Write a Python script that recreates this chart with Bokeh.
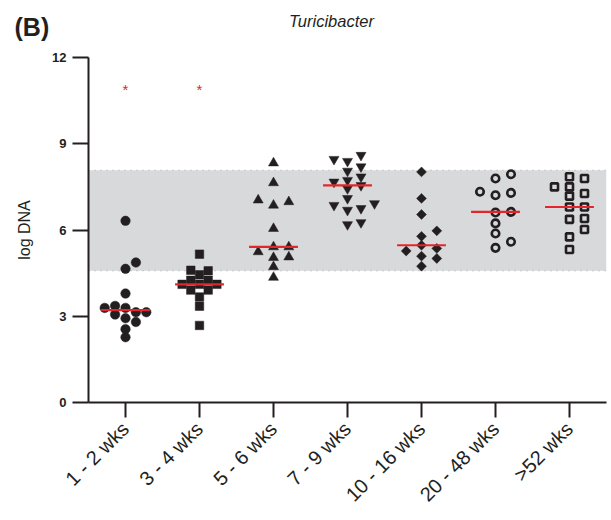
import numpy as np
from bokeh.plotting import figure
from bokeh.layouts import column
from bokeh.models import BoxAnnotation, Span, FixedTicker, Range1d, ColumnDataSource
from bokeh.core.properties import value
from bokeh.embed import file_html
from bokeh.resources import INLINE

# Age groups and log DNA values (Turicibacter)
groups = ["1 - 2 wks", "3 - 4 wks", "5 - 6 wks", "7 - 9 wks",
          "10 - 16 wks", "20 - 48 wks", ">52 wks"]

wk_1_2 = [6.32, 4.87, 4.65, 3.79, 3.36, 3.29, 3.29, 3.14, 3.14, 3.06, 2.93, 2.80, 2.55, 2.27]
wk_3_4 = [5.16, 4.60, 4.58, 4.44, 4.25, 4.25, 4.11, 4.11, 4.11, 3.91, 3.91, 3.67, 3.35, 2.68]
wk_5_6 = [8.33, 7.64, 7.04, 6.98, 6.86, 6.05, 5.41, 5.41, 5.24, 5.06, 5.04, 4.72, 4.35]
wk_7_9 = [8.60, 8.46, 8.39, 8.20, 8.05, 7.85, 7.73, 7.67, 7.55, 7.44, 7.10, 6.92, 6.86,
          6.75, 6.69, 6.26, 6.19]
wk_10_16 = [8.02, 7.10, 6.54, 5.97, 5.78, 5.47, 5.36, 5.27, 5.09, 5.01, 4.74]
wk_20_48 = [7.94, 7.79, 7.33, 7.29, 7.21, 6.63, 6.61, 6.23, 5.88, 5.59, 5.38]
wk_52_plus = [7.85, 7.79, 7.50, 7.50, 7.27, 7.18, 6.80, 6.80, 6.40, 6.37, 6.02, 5.76, 5.32]

series = [wk_1_2, wk_3_4, wk_5_6, wk_7_9, wk_10_16, wk_20_48, wk_52_plus]

# Reference range (shaded band) and groups flagged as significantly different
ref_low, ref_high = 4.58, 8.08
flagged = ["1 - 2 wks", "3 - 4 wks"]
star_level = 10.9

panel_letter = "(B)"
chart_title = "Turicibacter"

INK = "#231f20"
RED = "#e3262b"

# page geometry: a thin header strip above the main chart
W = 611
HEAD_H = 47
MAIN_H = 520 - HEAD_H
LEFT, RIGHT, TOP, BOTTOM = 88, 5, 10, 118
X0, X1, Y0, Y1 = 0.5, 7.5, 0, 12
PX_X = (W - LEFT - RIGHT) / (X1 - X0)
PX_Y = (MAIN_H - TOP - BOTTOM) / (Y1 - Y0)

# marker style per group: (marker, size, angle, filled, slot spacing px, min vertical gap px)
styles = [
    ("circle", 9.5, 0.0, True, 10.4, 8.0),
    ("square", 8.5, 0.0, True, 8.7, 7.5),
    ("triangle", 10.0, 0.0, True, 15.3, 8.0),
    ("inverted_triangle", 10.0, 0.0, True, 13.5, 8.0),
    ("square", 7.0, np.pi / 4, True, 15.3, 8.0),
    ("circle", 7.5, 0.0, False, 15.5, 9.0),
    ("square", 7.0, 0.0, False, 15.0, 9.0),
]


def swarm(vals, slot_px, gap_px):
    """Place points in horizontal slots so that markers in the same slot don't overlap."""
    vals = np.asarray(vals, dtype=float)
    order = np.argsort(vals)
    placed = []
    offsets = np.zeros(len(vals))
    cands = [0, 1, -1, 2, -2, 3, -3, 4, -4, 5, -5]
    for i in order:
        ypx = vals[i] * PX_Y
        slot = 0
        for c in cands:
            if all(not (s == c and abs(ypx - yy) < gap_px) for s, yy in placed):
                slot = c
                break
        placed.append((slot, ypx))
        offsets[i] = slot * slot_px / PX_X
    return offsets


# ---- header strip: panel letter and chart title ----
head = figure(width=W, height=HEAD_H, output_backend="svg", toolbar_location=None,
              x_range=Range1d(0, W), y_range=Range1d(0, HEAD_H),
              x_axis_type=None, y_axis_type=None,
              min_border=0, min_border_left=0, min_border_right=0,
              min_border_top=0, min_border_bottom=0)
head.outline_line_color = None
head.grid.visible = False
head.background_fill_color = "white"
head.border_fill_color = "white"
head.text(x=[14], y=[HEAD_H - 26], text=[panel_letter], text_color=INK,
          text_font=value("Liberation Sans"), text_font_style="bold",
          text_font_size="25px", text_align="left", text_baseline="middle")
head.text(x=[331], y=[HEAD_H - 20], text=[chart_title], text_color=INK,
          text_font=value("Liberation Sans"), text_font_style="italic",
          text_font_size="16.5px", text_align="center", text_baseline="middle")

# ---- main chart ----
p = figure(width=W, height=MAIN_H, output_backend="svg", toolbar_location=None,
           x_range=Range1d(X0, X1), y_range=Range1d(Y0, Y1),
           min_border_left=LEFT, min_border_right=RIGHT,
           min_border_top=TOP, min_border_bottom=BOTTOM)
p.outline_line_color = None
p.xgrid.visible = False
p.ygrid.visible = False
p.background_fill_color = "white"
p.border_fill_color = "white"

# keep the header's frame independent of the chart's frame
for fig in (head, p):
    if "frame_align" in fig.properties():
        fig.frame_align = False

# shaded reference band with dotted edges
p.add_layout(BoxAnnotation(bottom=ref_low, top=ref_high, fill_color="#d8d9db",
                           fill_alpha=1.0, line_color=None, level="underlay"))
for lvl in (ref_low, ref_high):
    p.add_layout(Span(location=lvl, dimension="width", line_color="#a7a8aa",
                      line_width=1, line_dash="1 5", level="underlay"))

# data points
for gi, (vals, st) in enumerate(zip(series, styles)):
    marker, size, angle, filled, slot_px, gap_px = st
    xs = (gi + 1) + swarm(vals, slot_px, gap_px)
    src = ColumnDataSource(dict(x=xs, y=vals))
    if filled:
        p.scatter("x", "y", source=src, marker=marker, size=size, angle=angle,
                  fill_color=INK, line_color=INK, line_width=0.5)
    else:
        p.scatter("x", "y", source=src, marker=marker, size=size, angle=angle,
                  fill_color=None, line_color=INK, line_width=2.6)

# median lines
centers = np.arange(1, len(groups) + 1)
medians = [float(np.median(v)) for v in series]
p.segment(x0=centers - 0.33, x1=centers + 0.33, y0=medians, y1=medians,
          line_color=RED, line_width=2.2)

# significance asterisks
star_x = [groups.index(g) + 1 for g in flagged]
p.text(x=star_x, y=[star_level] * len(star_x), text=["*"] * len(star_x),
       text_color=RED, text_font=value("Liberation Sans"), text_font_size="15px",
       text_align="center", text_baseline="middle")

# axes
ya = p.yaxis[0]
ya.ticker = FixedTicker(ticks=[0, 3, 6, 9, 12])
ya.minor_tick_line_color = None
ya.major_tick_in = 0
ya.major_tick_out = 16
ya.major_tick_line_width = 2
ya.major_tick_line_color = INK
ya.axis_line_width = 2
ya.axis_line_color = INK
ya.major_label_text_font = "Liberation Sans"
ya.major_label_text_font_style = "bold"
ya.major_label_text_font_size = "13px"
ya.major_label_text_color = INK
ya.major_label_standoff = 6
ya.axis_label = "log DNA"
ya.axis_label_text_font = "Liberation Sans"
ya.axis_label_text_font_style = "normal"
ya.axis_label_text_font_size = "16px"
ya.axis_label_text_color = INK
ya.axis_label_standoff = 16

xa = p.xaxis[0]
xa.ticker = FixedTicker(ticks=list(centers))
xa.major_label_overrides = {int(i + 1): g for i, g in enumerate(groups)}
xa.minor_tick_line_color = None
xa.major_tick_in = 0
xa.major_tick_out = 15
xa.major_tick_line_width = 2
xa.major_tick_line_color = INK
xa.axis_line_width = 2
xa.axis_line_color = INK
xa.major_label_orientation = np.pi / 4
xa.major_label_text_font = "Liberation Sans"
xa.major_label_text_font_size = "20px"
xa.major_label_text_color = INK
xa.major_label_standoff = 8

page = column(head, p, spacing=0)
open("out.html", "w").write(file_html(page, INLINE))
